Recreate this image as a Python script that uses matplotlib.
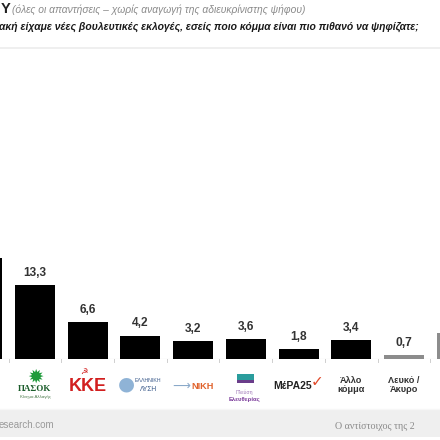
import matplotlib
matplotlib.use("Agg")
import matplotlib.pyplot as plt
from matplotlib.lines import Line2D
from matplotlib.patches import Rectangle

# ---- data ----
parties = ["ΣΥΡΙΖΑ", "ΠΑΣΟΚ", "ΚΚΕ", "Ελληνική Λύση", "ΝΙΚΗ",
           "Πλεύση Ελευθερίας", "ΜέΡΑ25", "Άλλο κόμμα", "Λευκό / Άκυρο", "Αναποφάσιστοι"]
values = [18.2, 13.3, 6.6, 4.2, 3.2, 3.6, 1.8, 3.4, 0.7, 4.7]
value_labels = ["18,2", "13,3", "6,6", "4,2", "3,2", "3,6", "1,8", "3,4", "0,7", "4,7"]
bar_colors = ["#000000"] * 8 + ["#8c8c8c", "#8c8c8c"]

title_head = "Y"
title_note = "(όλες οι απαντήσεις – χωρίς αναγωγή της αδιευκρίνιστης ψήφου)"
question = "ακή είχαμε νέες βουλευτικές εκλογές, εσείς ποιο κόμμα είναι πιο πιθανό να ψηφίζατε;"
footer_left = "esearch.com"
footer_right = "Ο αντίστοιχος της 2"

plt.rcParams['font.family'] = ['Liberation Sans', 'DejaVu Sans']

fig = plt.figure(figsize=(4.4, 4.4), dpi=100)
fig.patch.set_facecolor("white")

# header
fig.text(0.002, 1 - 9/440, title_head, fontsize=10.5, fontweight="bold", color="#222222", va="center")
fig.text(0.028, 1 - 10/440, title_note, fontsize=7.4, style="italic", color="#8a8a8a", va="center")
fig.text(-0.002, 1 - 27/440, question, fontsize=7.5, style="italic", fontweight="bold",
         color="#1a1a1a", va="center")
fig.add_artist(Line2D([0, 1], [1 - 48/440, 1 - 48/440], color="#ececec", lw=1.2,
                      transform=fig.transFigure))

# footer band
fig.add_artist(Rectangle((0, 3/440), 1, 28/440, transform=fig.transFigure,
                         facecolor="#efefef", edgecolor="none", zorder=0))
fig.add_artist(Line2D([0, 1], [31/440, 31/440], color="#f7f7f7", lw=1,
                      transform=fig.transFigure))
fig.text(-0.004, 1 - 425/440, footer_left, fontsize=7, color="#9a9a9a", va="center",
         family=["Liberation Sans Narrow", "Liberation Sans"])
fig.text(0.762, 1 - 426/440, footer_right, fontsize=7.2, color="#8a8a8a", va="center",
         family=["Liberation Serif", "DejaVu Serif"])

# bars
spacing = 52.7          # px per category
scale = 5.57            # px per unit
base_px = 359
ax = fig.add_axes([0, 1 - base_px/440, 1, 0.5])
x = list(range(len(values)))
ax.bar(x, values, width=40/spacing, color=bar_colors, zorder=3)
left = 1 - 35/spacing
right = left + 440/spacing
ax.set_xlim(left, right)
ax.set_ylim(0, 0.5*440/scale)
for s in ax.spines.values():
    s.set_visible(False)
ax.set_xticks([])
ax.set_yticks([])
ax.patch.set_alpha(0)

ax.axhline(0, color="#d0d0d0", lw=0.8, zorder=2)
for i in range(len(values) + 1):
    ax.plot([i - 0.5, i - 0.5], [0, -0.5], color="#cfcfcf", lw=0.7, clip_on=False)

narrow = ["Liberation Sans Narrow", "Liberation Sans"]
for xi, v, lab in zip(x, values, value_labels):
    if left < xi < right:   # labels of bars cut by the frame are outside the picture
        ax.text(xi, v + 1.1, lab, ha="center", va="bottom", fontsize=8.6, fontweight="bold",
                color="#333333", family=narrow, clip_on=True)

# category "logos" as text
u = 1 / scale  # data units per px
def ytxt(px):
    return (base_px - px) * u

ax.text(0.33, ytxt(385), "Α", ha="right", va="center", fontsize=9, color="#c0504d", clip_on=False)
ax.text(1, ytxt(377), "✹", ha="center", va="center", fontsize=14, color="#1e9b3a", clip_on=False,
        family=["DejaVu Sans"])
ax.text(1, ytxt(389), "ΠΑΣΟΚ", ha="center", va="center", fontsize=6.5, color="#1a5c2a",
        family=["Liberation Serif"], clip_on=False, fontweight="bold")
ax.text(1, ytxt(397), "Κίνημα Αλλαγής", ha="center", va="center", fontsize=3.2, color="#4a7a4a", clip_on=False)
ax.text(2, ytxt(386), "ΚΚΕ", ha="center", va="center", fontsize=13, fontweight="bold", color="#d21f1f",
        family=narrow, clip_on=False)
ax.text(1.93, ytxt(372), "☭", ha="center", va="center", fontsize=6, color="#d21f1f",
        family=["DejaVu Sans"], clip_on=False)
ax.text(2.73, ytxt(384), "●", ha="center", va="center", fontsize=14, color="#8fb3d6",
        family=["DejaVu Sans"], clip_on=False)
ax.text(3.15, ytxt(380), "ΕΛΛΗΝΙΚΗ", ha="center", va="center", fontsize=3.8, color="#3a5a8a", clip_on=False)
ax.text(3.15, ytxt(389), "ΛΥΣΗ", ha="center", va="center", fontsize=4.8, color="#3a5a8a", clip_on=False)
ax.text(3.78, ytxt(386), "⟶", ha="center", va="center", fontsize=9, color="#8aa9c9",
        family=["DejaVu Sans"], clip_on=False)
ax.text(4.18, ytxt(386), "ΝΙΚΗ", ha="center", va="center", fontsize=6.6, fontweight="bold",
        color="#e0612a", clip_on=False)
ax.add_patch(Rectangle((4.84, ytxt(380)), 0.32, 6 * u, facecolor="#2a9d9d", edgecolor="none",
                       clip_on=False))
ax.add_patch(Rectangle((4.84, ytxt(383)), 0.32, 3 * u, facecolor="#6a3d8a", edgecolor="none",
                       clip_on=False))
ax.text(4.98, ytxt(392), "Πλεύση", ha="center", va="center", fontsize=3.8, color="#a07ab8", clip_on=False)
ax.text(4.98, ytxt(399), "Ελευθερίας", ha="center", va="center", fontsize=4.2, fontweight="bold",
        color="#7a3a9a", clip_on=False)
ax.text(5.88, ytxt(386), "MέPA25", ha="center", va="center", fontsize=7.5, fontweight="bold",
        color="#222222", family=narrow, clip_on=False)
ax.text(6.36, ytxt(382), "✓", ha="center", va="center", fontsize=11, color="#e14a2a",
        family=["DejaVu Sans"], clip_on=False)
ax.text(7, ytxt(385), "Άλλο\nκόμμα", ha="center", va="center", fontsize=6.6, fontweight="bold",
        color="#333333", family=narrow, linespacing=1.0, clip_on=False)
ax.text(8, ytxt(385), "Λευκό /\nΆκυρο", ha="center", va="center", fontsize=6.6, fontweight="bold",
        color="#333333", family=narrow, linespacing=1.0, clip_on=False)

# bracket over the last group
ax.plot([8.85, 8.85, 10], [ytxt(295), ytxt(285), ytxt(285)], color="#9a9a9a", lw=0.9, clip_on=False)

fig.savefig("out.png", dpi=100)
